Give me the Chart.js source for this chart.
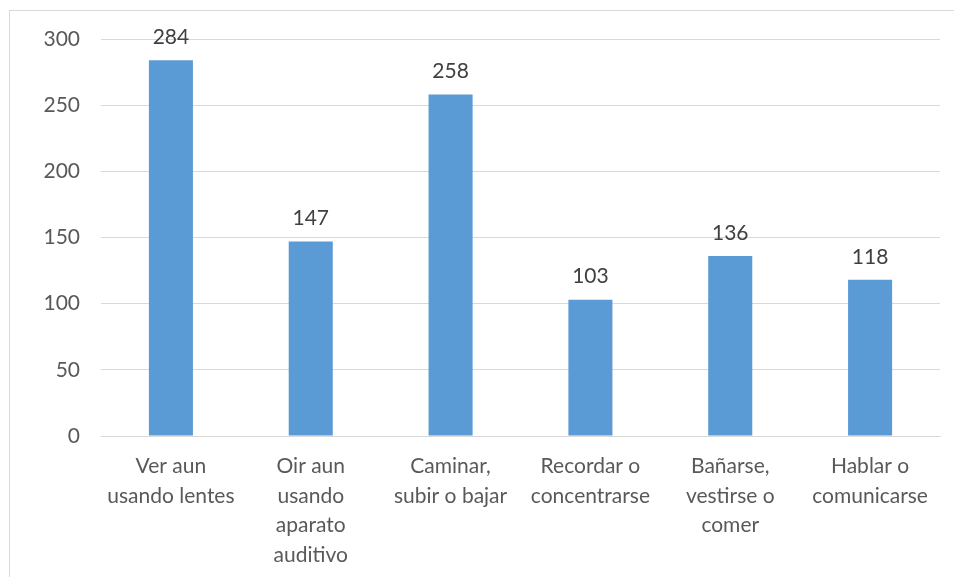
<!DOCTYPE html>
<html>
<head>
<meta charset="utf-8">
<script src="https://cdn.jsdelivr.net/npm/chart.js@4.4.0/dist/chart.umd.min.js"></script>
<style>
    html, body { margin: 0; padding: 0; background: #fff; }
    #wrap { position: relative; width: 954px; height: 577px; overflow: hidden; }
    #frame { position: absolute; left: 9px; top: 10px; width: 960px; height: 600px; border: 1px solid #d9d9d9; }
    #chart { position: absolute; left: 0; top: 0; }
</style>
</head>
<body>
<div id="wrap">
    <div id="frame"></div>
    <canvas id="chart" width="954" height="577"></canvas>
</div>
<script>
// Categories and values
const categories = [
    ["Ver aun", "usando lentes"],
    ["Oir aun", "usando", "aparato", "auditivo"],
    ["Caminar,", "subir o bajar"],
    ["Recordar o", "concentrarse"],
    ["Bañarse,", "vestirse o", "comer"],
    ["Hablar o", "comunicarse"]
];
const values = [284, 147, 258, 103, 136, 118];
const yTicks = [0, 50, 100, 150, 200, 250, 300];

const FONT = "Lato, 'Open Sans', sans-serif";

// draw the value above each bar
const valueLabels = {
    id: "valueLabels",
    afterDatasetsDraw(chart) {
        const ctx = chart.ctx;
        const meta = chart.getDatasetMeta(0);
        ctx.save();
        ctx.font = "21px " + FONT;
        ctx.fillStyle = "#404040";
        ctx.textAlign = "center";
        ctx.textBaseline = "middle";
        meta.data.forEach((bar, i) => {
            ctx.fillText(values[i], bar.x, bar.y - 23);
        });
        ctx.restore();
    }
};

new Chart(document.getElementById("chart").getContext("2d"), {
    type: "bar",
    data: {
        labels: categories,
        datasets: [
            {
                data: values,
                backgroundColor: "#5b9bd5",
                borderWidth: 0,
                categoryPercentage: 1,
                barPercentage: 0.315
            }
        ]
    },
    options: {
        responsive: false,
        animation: false,
        layout: { padding: { top: 39, right: 14, bottom: 0, left: 0 } },
        plugins: {
            legend: { display: false },
            tooltip: { enabled: false }
        },
        scales: {
            x: {
                grid: { display: false, drawTicks: false },
                border: { color: "#d9d9d9", width: 1 },
                ticks: {
                    color: "#595959",
                    font: { family: FONT, size: 21, lineHeight: 1.4 },
                    padding: 16,
                    maxRotation: 0,
                    autoSkip: false
                },
                afterFit(scale) { scale.height = 141; }
            },
            y: {
                min: 0,
                max: 300,
                afterBuildTicks(scale) {
                    scale.ticks = yTicks.map((v) => ({ value: v }));
                },
                grid: { color: "#d9d9d9", lineWidth: 1, drawTicks: false },
                border: { display: false },
                ticks: {
                    color: "#595959",
                    font: { family: FONT, size: 21 },
                    padding: 21
                },
                afterFit(scale) { scale.width = 101; }
            }
        }
    },
    plugins: [valueLabels]
});
</script>
</body>
</html>
